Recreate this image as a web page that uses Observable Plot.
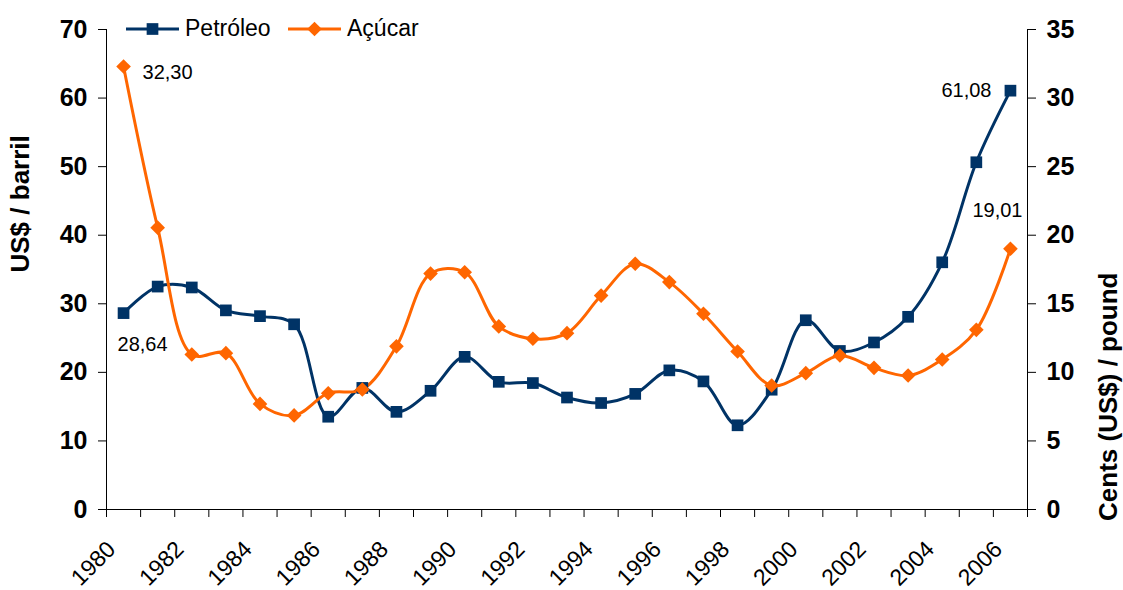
<!DOCTYPE html>
<html>
<head>
<meta charset="utf-8">
<script src="https://cdn.jsdelivr.net/npm/d3@7"></script>
<script src="https://cdn.jsdelivr.net/npm/@observablehq/plot@0.6"></script>
<style>
  body { margin: 0; background: #fff; }
  #wrap { position: relative; width: 1123px; height: 590px; font-family: "Liberation Sans", Arial, sans-serif; }
  #legend { position: absolute; left: 0; top: 0; }
</style>
</head>
<body>
<div id="wrap"></div>
<script>
// ---- data ----
const years = [1980,1981,1982,1983,1984,1985,1986,1987,1988,1989,1990,1991,1992,1993,1994,1995,1996,1997,1998,1999,2000,2001,2002,2003,2004,2005,2006];
const petroleo = [28.64,32.51,32.38,29.04,28.20,27.01,13.53,17.73,14.24,17.31,22.26,18.62,18.44,16.33,15.53,16.86,20.29,18.68,12.28,17.47,27.60,23.12,24.36,28.10,36.05,50.64,61.08];
const acucar = [32.30,20.55,11.30,11.40,7.70,6.86,8.48,8.75,11.90,17.20,17.30,13.35,12.45,12.86,15.60,17.92,16.58,14.27,11.52,9.04,9.94,11.23,10.33,9.77,10.94,13.10,19.01];
const xLabels = [1980,1982,1984,1986,1988,1990,1992,1994,1996,1998,2000,2002,2004,2006];
const leftTicks = [0,10,20,30,40,50,60,70];
const rightTicks = [0,5,10,15,20,25,30,35];
const seriesNames = ["Petróleo", "Açúcar"];
const colors = ["#003366", "#FF6600"];

const oilData = years.map((y, i) => ({year: y, v: petroleo[i]}));
const sugarData = years.map((y, i) => ({year: y, v: acucar[i] * 2})); // right axis is half of left
const fmt = v => v.toFixed(2).replace(".", ",");
const boundaries = d3.range(years[0] - 0.5, years[years.length - 1] + 1, 1);
const font = "Liberation Sans, Arial, sans-serif";

const chart = Plot.plot({
  width: 1123,
  height: 590,
  marginLeft: 106,
  marginRight: 96,
  marginTop: 29,
  marginBottom: 81,
  style: {fontFamily: font, color: "#000", background: "#fff", overflow: "visible"},
  x: {domain: [years[0] - 0.5, years[years.length - 1] + 0.5]},
  y: {domain: [0, 70]},
  marks: [
    Plot.axisX({ticks: boundaries, tickSize: 8, tickFormat: () => "", label: null}),
    Plot.axisY({anchor: "left", ticks: leftTicks, tickSize: 8, tickPadding: 11, fontSize: 25, fontWeight: "bold", label: null}),
    Plot.axisY({anchor: "right", ticks: rightTicks.map(t => t * 2), tickFormat: d => d / 2, tickSize: 8, tickPadding: 11, fontSize: 25, fontWeight: "bold", label: null}),
    Plot.ruleY([0], {stroke: "#000"}),
    Plot.ruleX([years[0] - 0.5, years[years.length - 1] + 0.5], {stroke: "#000"}),
    Plot.text(xLabels, {x: d => d, y: 0, text: d => String(d), rotate: -45, textAnchor: "end", lineAnchor: "middle", dx: -12, dy: 36, fontSize: 23, fill: "#000"}),
    Plot.line(oilData, {x: "year", y: "v", stroke: colors[0], strokeWidth: 3, curve: "catmull-rom"}),
    Plot.line(sugarData, {x: "year", y: "v", stroke: colors[1], strokeWidth: 3, curve: "catmull-rom"}),
    Plot.dot(oilData, {x: "year", y: "v", symbol: "square", r: 6.6, fill: colors[0], stroke: "none"}),
    Plot.dot(sugarData, {x: "year", y: "v", symbol: "diamond2", r: 6.6, fill: colors[1], stroke: "none"}),
    Plot.text([sugarData[0]], {x: "year", y: "v", text: () => fmt(acucar[0]), textAnchor: "start", dx: 19, dy: 6, fontSize: 20, fill: "#000"}),
    Plot.text([oilData[0]], {x: "year", y: "v", text: () => fmt(petroleo[0]), textAnchor: "middle", dx: 19, dy: 31, fontSize: 20, fill: "#000"}),
    Plot.text([oilData[oilData.length - 1]], {x: "year", y: "v", text: () => fmt(petroleo[petroleo.length - 1]), textAnchor: "end", dx: -19, dy: 0, fontSize: 20, fill: "#000"}),
    Plot.text([sugarData[sugarData.length - 1]], {x: "year", y: "v", text: () => fmt(acucar[acucar.length - 1]), textAnchor: "middle", dx: -13, dy: -38, fontSize: 20, fill: "#000"}),
    Plot.text(["US$ / barril"], {frameAnchor: "left", text: d => d, rotate: -90, dx: -86, dy: 3, fontSize: 26, fontWeight: "bold", fill: "#000"}),
    Plot.text(["Cents (US$) / pound"], {frameAnchor: "right", text: d => d, rotate: -90, dx: 81, dy: 3, fontSize: 26, fontWeight: "bold", fill: "#000"})
  ]
});

const wrap = document.getElementById("wrap");
wrap.appendChild(chart);

// ---- legend (HTML overlay above the plot) ----
const leg = d3.select(wrap).append("svg").attr("id", "legend").attr("width", 500).attr("height", 50)
  .style("font-family", font);
const items = [
  {name: seriesNames[0], color: colors[0], sym: d3.symbolSquare, x: 126},
  {name: seriesNames[1], color: colors[1], sym: d3.symbolDiamond2, x: 288}
];
items.forEach(it => {
  const g = leg.append("g").attr("transform", `translate(${it.x},29)`);
  g.append("line").attr("x1", 0).attr("x2", 53).attr("y1", 0).attr("y2", 0).attr("stroke", it.color).attr("stroke-width", 3);
  g.append("path").attr("d", d3.symbol(it.sym, Math.PI * 6.6 * 6.6)()).attr("transform", "translate(26.5,0)").attr("fill", it.color);
  g.append("text").attr("x", 59).attr("y", 7).attr("font-size", 23).attr("fill", "#000").text(it.name);
});
</script>
</body>
</html>
